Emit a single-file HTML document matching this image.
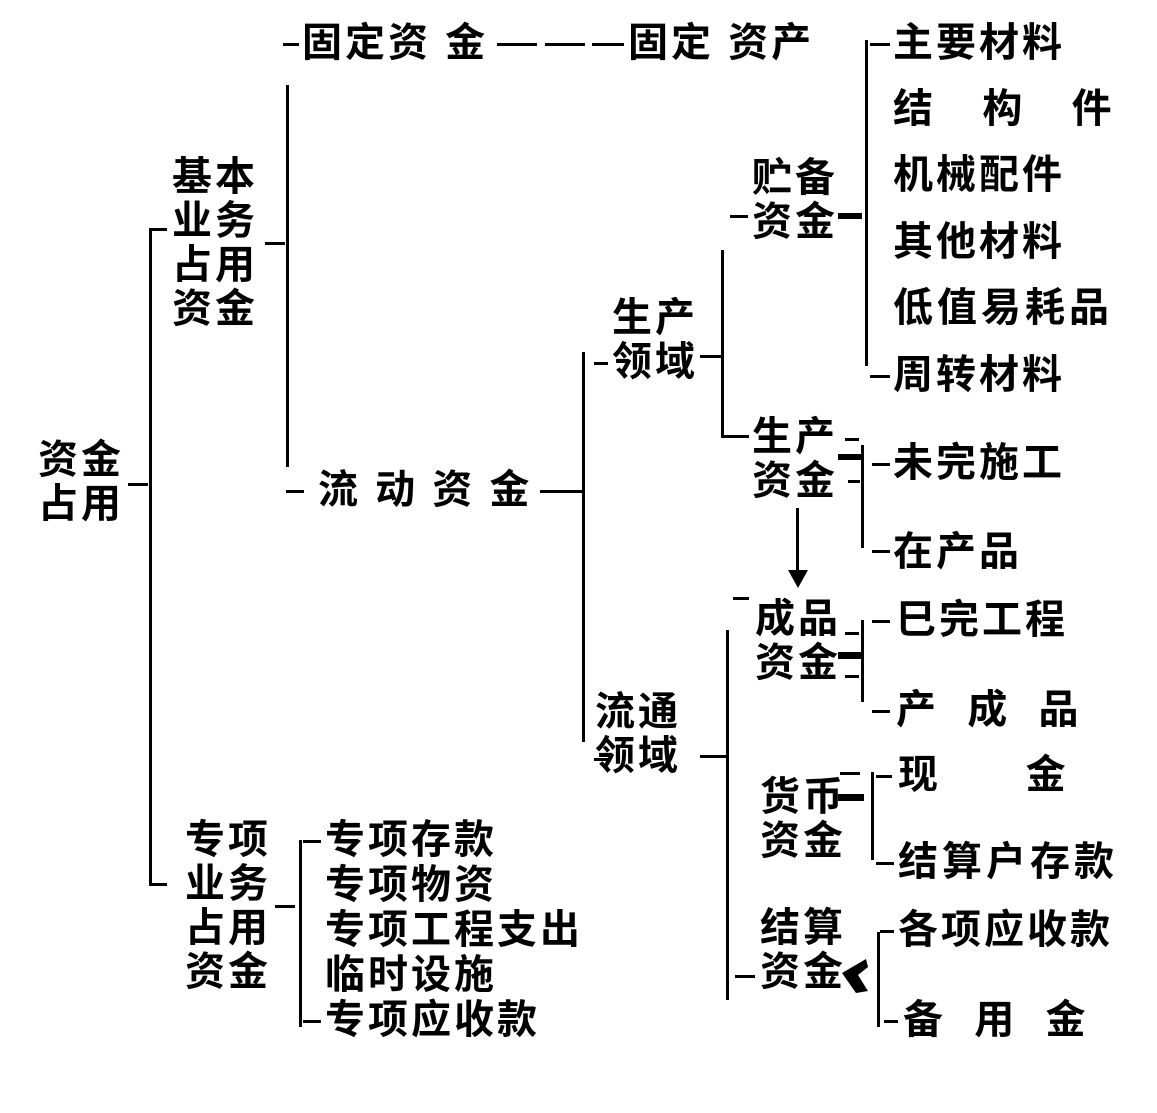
<!DOCTYPE html>
<html><head><meta charset="utf-8"><style>
body{margin:0;width:1157px;height:1113px;background:#fff;position:relative;overflow:hidden}
.t{position:absolute;font-family:"Liberation Sans","Noto Sans CJK SC","WenQuanYi Zen Hei",sans-serif;font-weight:bold;font-size:40px;line-height:44px;letter-spacing:3px;white-space:pre;color:#000}
.h{position:absolute;height:3px;background:#000}
.v{position:absolute;width:3px;background:#000}
</style></head><body>
<div class="t" style="left:38px;top:438px">资金
占用</div>
<div class="h" style="left:128px;top:483px;width:20px"></div>
<div class="v" style="left:149px;top:228px;height:658px"></div>
<div class="h" style="left:149px;top:228px;width:18px"></div>
<div class="h" style="left:149px;top:883px;width:18px"></div>
<div class="t" style="left:172px;top:155px">基本
业务
占用
资金</div>
<div class="h" style="left:265px;top:242px;width:20px"></div>
<div class="v" style="left:286px;top:85px;height:382px"></div>
<div class="h" style="left:283px;top:43px;width:16px"></div>
<div class="t" style="left:302px;top:21px">固定资 金</div>
<div class="h" style="left:497px;top:43px;width:40px"></div>
<div class="h" style="left:545px;top:43px;width:40px"></div>
<div class="h" style="left:592px;top:43px;width:32px"></div>
<div class="t" style="left:628px;top:21px">固定 资产</div>
<div class="h" style="left:286px;top:490px;width:18px"></div>
<div class="t" style="left:318px;top:468px">流 动 资 金</div>
<div class="h" style="left:540px;top:490px;width:42px"></div>
<div class="v" style="left:582px;top:352px;height:390px"></div>
<div class="t" style="left:612px;top:296px">生产
领域</div>
<div class="h" style="left:594px;top:362px;width:14px"></div>
<div class="h" style="left:700px;top:355px;width:22px"></div>
<div class="v" style="left:721px;top:250px;height:185px"></div>
<div class="h" style="left:730px;top:215px;width:18px"></div>
<div class="t" style="left:752px;top:156px">贮备
资金</div>
<div class="h" style="left:838px;top:213px;width:24px;height:6px"></div>
<div class="v" style="left:865px;top:40px;height:326px"></div>
<div class="h" style="left:870px;top:43px;width:20px"></div>
<div class="t" style="left:893px;top:21px">主要材料</div>
<div class="t" style="left:893px;top:87px;letter-spacing:4px">结   构   件</div>
<div class="t" style="left:893px;top:153px">机械配件</div>
<div class="t" style="left:893px;top:220px">其他材料</div>
<div class="t" style="left:893px;top:286px;letter-spacing:4px">低值易耗品</div>
<div class="h" style="left:870px;top:375px;width:20px"></div>
<div class="t" style="left:893px;top:353px">周转材料</div>
<div class="h" style="left:721px;top:435px;width:28px"></div>
<div class="t" style="left:752px;top:415px">生产
资金</div>
<div class="h" style="left:845px;top:438px;width:14px"></div>
<div class="h" style="left:838px;top:454px;width:24px;height:6px"></div>
<div class="h" style="left:848px;top:480px;width:12px"></div>
<div class="v" style="left:861px;top:445px;height:103px"></div>
<div class="h" style="left:872px;top:463px;width:18px"></div>
<div class="t" style="left:893px;top:441px">未完施工</div>
<div class="h" style="left:872px;top:550px;width:18px"></div>
<div class="t" style="left:893px;top:530px">在产品</div>
<div class="v" style="left:796px;top:508px;height:68px"></div>
<svg style="position:absolute;left:788px;top:570px" width="20" height="20"><polygon points="0,0 20,0 10,18" fill="#000"/></svg>
<div class="h" style="left:733px;top:597px;width:16px"></div>
<div class="t" style="left:755px;top:597px">成品
资金</div>
<div class="h" style="left:845px;top:632px;width:14px"></div>
<div class="h" style="left:838px;top:652px;width:26px;height:7px"></div>
<div class="h" style="left:845px;top:675px;width:14px"></div>
<div class="v" style="left:861px;top:620px;height:82px"></div>
<div class="h" style="left:872px;top:620px;width:18px"></div>
<div class="t" style="left:896px;top:598px">巳完工程</div>
<div class="h" style="left:872px;top:710px;width:18px"></div>
<div class="t" style="left:896px;top:688px">产  成  品</div>
<div class="t" style="left:595px;top:690px">流通
领域</div>
<div class="h" style="left:594px;top:758px;width:14px"></div>
<div class="h" style="left:700px;top:755px;width:26px"></div>
<div class="v" style="left:726px;top:630px;height:370px"></div>
<div class="t" style="left:760px;top:775px">货币
资金</div>
<div class="h" style="left:840px;top:772px;width:20px"></div>
<div class="h" style="left:838px;top:794px;width:26px;height:7px"></div>
<div class="v" style="left:871px;top:772px;height:88px"></div>
<div class="h" style="left:876px;top:775px;width:16px"></div>
<div class="t" style="left:898px;top:753px">现      金</div>
<div class="h" style="left:876px;top:862px;width:18px"></div>
<div class="t" style="left:898px;top:840px;letter-spacing:4px">结算户存款</div>
<div class="t" style="left:760px;top:906px">结算
资金</div>
<div class="h" style="left:735px;top:975px;width:20px"></div>
<svg style="position:absolute;left:838px;top:955px" width="34" height="40"><path d="M4,18 L28,4 L30,12 L20,20 L30,36 L18,38 Z" fill="#000"/></svg>
<div class="v" style="left:877px;top:932px;height:95px"></div>
<div class="h" style="left:880px;top:930px;width:14px"></div>
<div class="t" style="left:898px;top:908px">各项应收款</div>
<div class="h" style="left:884px;top:1020px;width:14px"></div>
<div class="t" style="left:903px;top:998px">备  用  金</div>
<div class="t" style="left:185px;top:818px">专项
业务
占用
资金</div>
<div class="h" style="left:275px;top:905px;width:20px"></div>
<div class="v" style="left:299px;top:840px;height:187px"></div>
<div class="h" style="left:303px;top:840px;width:18px"></div>
<div class="t" style="left:325px;top:818px">专项存款</div>
<div class="t" style="left:325px;top:863px">专项物资</div>
<div class="t" style="left:325px;top:908px">专项工程支出</div>
<div class="t" style="left:325px;top:953px">临时设施</div>
<div class="h" style="left:303px;top:1020px;width:18px"></div>
<div class="t" style="left:325px;top:998px">专项应收款</div>
</body></html>
